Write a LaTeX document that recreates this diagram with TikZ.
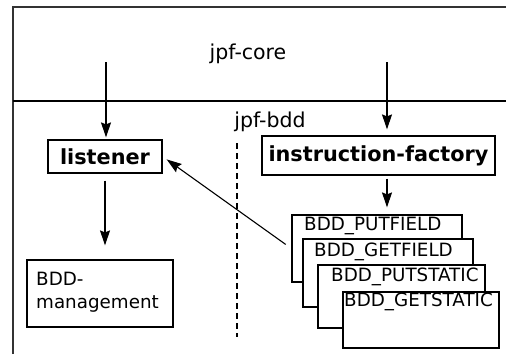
\documentclass[tikz,border=0pt]{standalone}
\usepackage{fontspec}
\setmainfont{DejaVu Sans}
\usetikzlibrary{arrows.meta}
\begin{document}
\begin{tikzpicture}[x=1pt,y=-1pt,
  font=\fontsize{18.3}{23}\selectfont,
  every node/.style={inner sep=0pt},
  box/.style={draw, line width=1.2pt, fill=white},
  big/.style={font=\fontsize{20.5}{24}\selectfont},
  bigbold/.style={font=\fontsize{20.8}{24}\selectfont\bfseries},
  arr/.style={line width=1.1pt, -{Stealth[length=15pt,width=10pt,inset=2pt]}},
  lbl/.style={anchor=west}]
  \useasboundingbox (0,0) rectangle (506,354);

  % layer frame: jpf-core above, jpf-bdd below
  \coordinate (tl) at (13,7);
  \coordinate (tr) at (506,7);
  \coordinate (bl) at (13,354);
  \coordinate (ml) at (13,101);
  \coordinate (mr) at (506,101);
  \draw[line width=1.2pt, black!80] (bl) -- (tl) -- (tr);
  \draw[line width=1.2pt] (ml) -- (mr);
  \node[big] (core) at (248,54) {jpf-core};
  \node[big] (bdd) at (270,122) {jpf-bdd};

  % dashed separator
  \coordinate (d1) at (237,143);
  \coordinate (d2) at (237,337);
  \draw[line width=1.1pt, dash pattern=on 6pt off 4pt] (d1) -- (d2);

  % main components
  \node[box, bigbold, minimum width=114pt, minimum height=33pt]
    (lis) at (105,156.5) {listener};
  \node[box, bigbold, minimum width=233pt, minimum height=39pt]
    (ifac) at (378.5,155.5) {instruction-factory};
  \node[box, minimum width=146pt, minimum height=67pt] (mgmt) at (100,293.5) {};
  \node[anchor=west, align=left] (mgmtl) at (36,292) {BDD-\\management};

  % stacked instruction boxes
  \node[box, minimum width=170pt, minimum height=67pt] (b1) at (377,248.5) {};
  \node[lbl] (b1l) at (304,226) {BDD\_PUTFIELD};
  \node[box, minimum width=170pt, minimum height=68pt] (b2) at (388,273) {};
  \node[lbl] (b2l) at (314,252) {BDD\_GETFIELD};
  \node[box, minimum width=167pt, minimum height=63pt] (b3) at (401.5,296.5) {};
  \node[lbl] (b3l) at (331,277) {BDD\_PUTSTATIC};
  \node[box, minimum width=156pt, minimum height=56pt] (b4) at (421,320) {};
  \node[lbl] (b4l) at (344,302) {BDD\_GETSTATIC};

  % connectors
  \coordinate (c1) at (106,62);
  \coordinate (c2) at (387,62);
  \draw[arr, shorten >=2pt] (c1) -- (c1 |- lis.north);
  \draw[arr, shorten >=6pt] (c2) -- (c2 |- ifac.north);
  \draw[arr, shorten <=7pt, shorten >=14pt] (lis.south) -- (mgmt.north -| lis.south);
  \draw[arr, shorten <=3pt, shorten >=7pt] (ifac.south -| c2) -- (b1.north -| c2);
  \draw[arr, shorten <=7pt, shorten >=5pt] (b1.west) -- (lis.east);
\end{tikzpicture}
\end{document}
